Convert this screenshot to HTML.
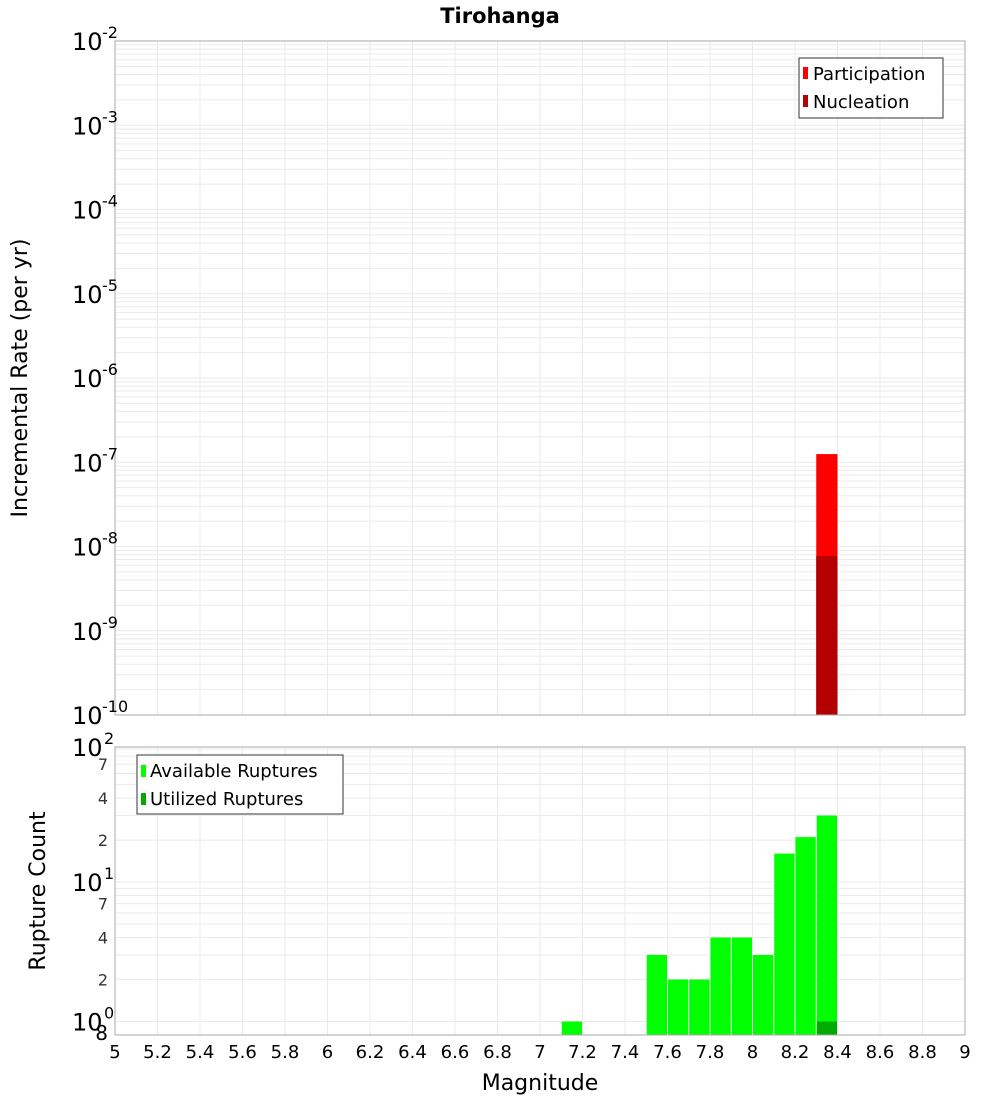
<!DOCTYPE html>
<html><head><meta charset="utf-8"><style>
body{margin:0;background:#fff;}
svg text{font-family:"DejaVu Sans","Liberation Sans",sans-serif;}
</style></head><body>
<svg id="c" width="1000" height="1100" xmlns="http://www.w3.org/2000/svg">
<text x="500" y="23" text-anchor="middle" font-size="21" font-weight="bold">Tirohanga</text>
<g id="g"></g>
<text x="540" y="1090" text-anchor="middle" font-size="22">Magnitude</text>
<text transform="translate(27,378) rotate(-90)" text-anchor="middle" font-size="22">Incremental Rate (per yr)</text>
<text transform="translate(45,891) rotate(-90)" text-anchor="middle" font-size="22">Rupture Count</text>
<g>
<rect x="799" y="58" width="144" height="60" fill="#fff" stroke="#333"/>
<rect x="803" y="67" width="5" height="12" fill="#ff0000"/>
<text x="813" y="80" font-size="18">Participation</text>
<rect x="803" y="95" width="5" height="12" fill="#b40000"/>
<text x="813" y="108" font-size="18">Nucleation</text>
</g>
<g>
<rect x="137" y="755" width="206" height="59" fill="#fff" stroke="#333"/>
<rect x="141" y="765" width="5" height="12" fill="#00ff00"/>
<text x="150" y="777" font-size="18">Available Ruptures</text>
<rect x="141" y="793" width="5" height="12" fill="#00aa00"/>
<text x="150" y="805" font-size="18">Utilized Ruptures</text>
</g>
</svg>
<script>
const binCenters=[7.15,7.55,7.65,7.75,7.85,7.95,8.05,8.15,8.25,8.35];
const availableCounts=[1,3,2,2,4,4,3,16,21,30];
const utilizedMags=[8.35];
const utilizedCounts=[1];
const rateMags=[8.35];
const participationRates=[1.25e-7];
const nucleationRates=[7.7e-9];
const xTicks=[5,5.2,5.4,5.6,5.8,6,6.2,6.4,6.6,6.8,7,7.2,7.4,7.6,7.8,8,8.2,8.4,8.6,8.8,9];
const xTickLabels=["5","5.2","5.4","5.6","5.8","6","6.2","6.4","6.6","6.8","7","7.2","7.4","7.6","7.8","8","8.2","8.4","8.6","8.8","9"];
const topExps=[-10,-9,-8,-7,-6,-5,-4,-3,-2];
const botMinor=[2,4,7,20,40,70];

const NS="http://www.w3.org/2000/svg";
const G=document.getElementById('g');
function mk(t,a){const e=document.createElementNS(NS,t);for(const k in a)e.setAttribute(k,a[k]);G.appendChild(e);return e;}
const X0=115,X1=965;
const sx=m=>X0+(m-5)/4*(X1-X0);
const T0=41,T1=715;
const sy1=v=>T1-(Math.log10(v)+10)/8*(T1-T0);
const B0=747,B1=1035,BMIN=0.8,BMAX=93;
const sy2=v=>B1-Math.log10(v/BMIN)/Math.log10(BMAX/BMIN)*(B1-B0);

for(let e=-10;e<-2;e++)for(let k=1;k<10;k++){const y=sy1(k*Math.pow(10,e));
 const l=mk('line',{x1:X0,x2:X1,y1:y,y2:y,stroke:'#ebebeb','stroke-width':1});
 
 }
for(let d of [1,10])for(let k=1;k<10;k++){const v=d*k;if(v<BMIN||v>BMAX)continue;const y=sy2(v);
 const l=mk('line',{x1:X0,x2:X1,y1:y,y2:y,stroke:'#ebebeb','stroke-width':1});
 
 }
xTicks.forEach(t=>{const x=sx(t);
 const a=mk('line',{x1:x,x2:x,y1:T0,y2:T1,stroke:'#ebebeb'});
 
 
 const b=mk('line',{x1:x,x2:x,y1:B0,y2:B1,stroke:'#ebebeb'});
 
 });

const bw=(X1-X0)/40;
rateMags.forEach((m,i)=>{
 const p=mk('rect',{x:sx(m)-bw/2,y:sy1(participationRates[i]),width:bw,height:T1-sy1(participationRates[i]),fill:'#ff0000'});
 
 
 const n=mk('rect',{x:sx(m)-bw/2,y:sy1(nucleationRates[i]),width:bw,height:T1-sy1(nucleationRates[i]),fill:'#b40000'});
 
 });
binCenters.forEach((m,i)=>{
 const r=mk('rect',{x:sx(m)-bw/2+0.5,y:sy2(availableCounts[i]),width:bw-1,height:B1-sy2(availableCounts[i]),fill:'#00ff00'});
 
 });
utilizedMags.forEach((m,i)=>{
 const r=mk('rect',{x:sx(m)-bw/2+0.5,y:sy2(utilizedCounts[i]),width:bw-1,height:B1-sy2(utilizedCounts[i]),fill:'#00aa00'});
 
 });

let f=mk('rect',{x:X0,y:T0,width:X1-X0,height:T1-T0,fill:'none',stroke:'#aaa'});


f=mk('rect',{x:X0,y:B0,width:X1-X0,height:B1-B0,fill:'none',stroke:'#aaa'});



topExps.forEach(e=>{const y=sy1(Math.pow(10,e));
 const t=mk('text',{x:72,y:y+9,'font-size':24});t.textContent='10';
 
 
 const s=mk('text',{x:102,y:y-3,'font-size':16});s.textContent='-'+String(-e);
 
 });
[[1,'0'],[10,'1'],[100,'2']].forEach(([v,e])=>{const y=Math.max(sy2(v),B0);
 const t=mk('text',{x:72,y:y+9,'font-size':24});t.textContent='10';
 
 
 const s=mk('text',{x:104,y:y-3,'font-size':16});s.textContent=e;
 
 });
botMinor.concat([0.8]).forEach(v=>{const y=sy2(v);
 const t=mk('text',{x:108,y:y+(v==0.8?5:6),'font-size':v==0.8?20:16,'text-anchor':'end',fill:v==0.8?'#000':'#333'});
 t.textContent=v==0.8?'8':String(v>=10?v/10:v);
 
 });
xTicks.forEach((t,i)=>{const e=mk('text',{x:sx(t),y:1058,'font-size':18,'text-anchor':'middle'});e.textContent=xTickLabels[i];
 
 });
</script>
</body></html>
